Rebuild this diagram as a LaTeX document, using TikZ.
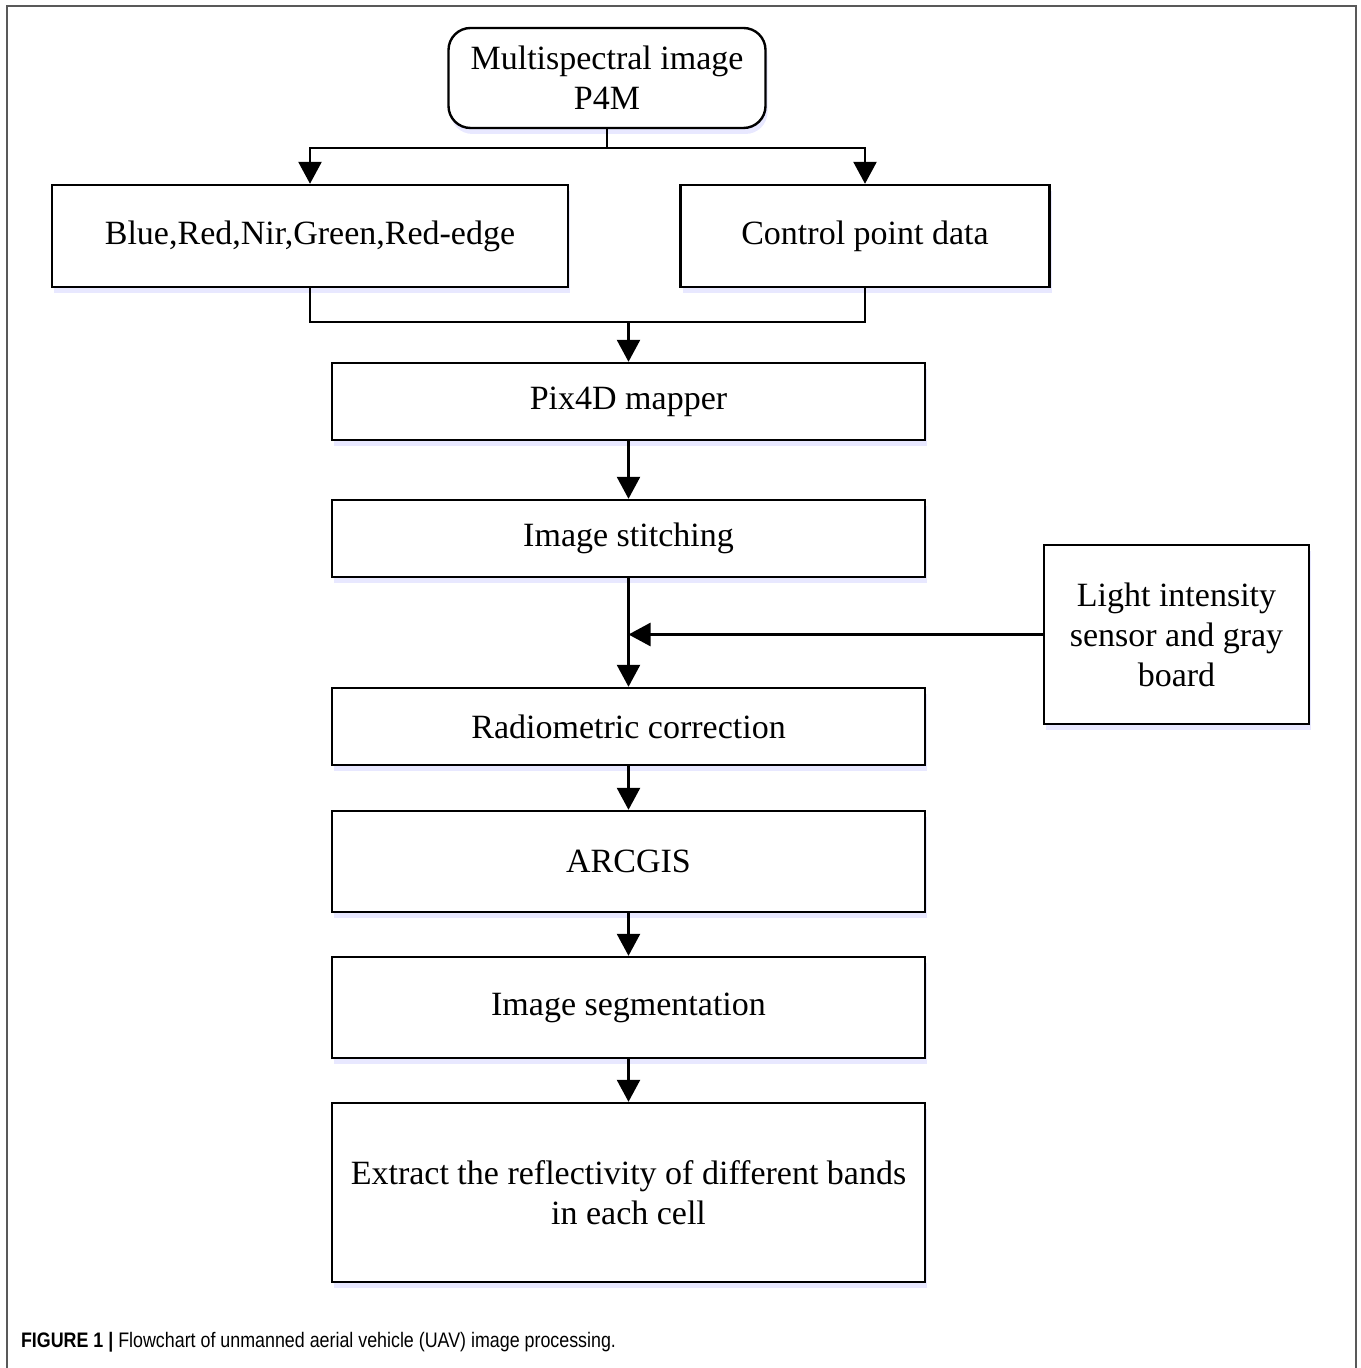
\documentclass[tikz,border=0pt]{standalone}
\usepackage{fontspec}
\setmainfont{Liberation Serif}
\newfontfamily\capfont{Liberation Sans}
\usetikzlibrary{arrows.meta,shadows}

\tikzset{
  box/.style={draw, fill=white, line width=1.2pt, align=center,
    font=\fontsize{17}{20}\selectfont,
    drop shadow={shadow xshift=1pt, shadow yshift=-3pt, fill=blue!9, opacity=1}},
  mainbox/.style={box, minimum width=296.5pt, minimum height=38.5pt},
  flow/.style={line width=1.3pt},
  arr/.style={flow, -{Triangle[length=11pt,width=11.5pt]}}
}

\begin{document}
\begin{tikzpicture}[x=0.5pt,y=-0.5pt]
    \useasboundingbox (0,0) rectangle (1360,1368);
    \draw[gray!70!black, line width=1pt] (7,1368) -- (7,6) -- (1356,6) -- (1356,1368);

    % boxes
    \node[box, rounded corners=11pt, minimum width=158.5pt, minimum height=50pt] (src) at (607,78) {Multispectral image\\P4M};
    \node[box, minimum width=258pt, minimum height=51pt] (bands) at (310,236) {Blue,Red,Nir,Green,Red-edge};
    \node[box, minimum width=184.5pt, minimum height=51pt] (ctrl) at (865,236) {Control point data};
    \node[mainbox] (pix) at (628.5,401.5) {Pix4D mapper};
    \node[mainbox] (stitch) at (628.5,538.5) {Image stitching};
    \node[box, minimum width=132.5pt, minimum height=89.5pt] (light) at (1176.5,634.5) {Light intensity\\sensor and gray\\board};
    \node[mainbox] (radio) at (628.5,726.5) {Radiometric correction};
    \node[mainbox, minimum height=50.5pt] (arc) at (628.5,861.5) {ARCGIS};
    \node[mainbox, minimum height=50.5pt] (seg) at (628.5,1007.5) {Image segmentation};
    \node[mainbox, minimum height=89.5pt] (refl) at (628.5,1192.5) {Extract the reflectivity of different bands\\in each cell};

    % connectors
    \coordinate (split) at (607,148);
    \coordinate (merge) at (628.5,322);
    \coordinate (join) at (628.5,634.5);
    \draw[flow] (src.south) -- (split);
    \draw[arr] (split) -| (bands.north);
    \draw[arr] (split) -| (ctrl.north);
    \draw[flow] (bands.south) |- (merge) -| (ctrl.south);
    \draw[arr] (merge) -- (pix.north);
    \draw[arr] (pix.south) -- (stitch.north);
    \draw[arr] (stitch.south) -- (radio.north);
    \draw[arr] (light.west) -- (join);
    \draw[arr] (radio.south) -- (arc.north);
    \draw[arr] (arc.south) -- (seg.north);
    \draw[arr] (seg.south) -- (refl.north);

    \node[anchor=west, font=\capfont\fontsize{10.5}{12}\selectfont] (cap) at (14,1342)
        {\scalebox{0.85}[1]{\textbf{FIGURE 1 |} Flowchart of unmanned aerial vehicle (UAV) image processing.}};
\end{tikzpicture}
\end{document}
